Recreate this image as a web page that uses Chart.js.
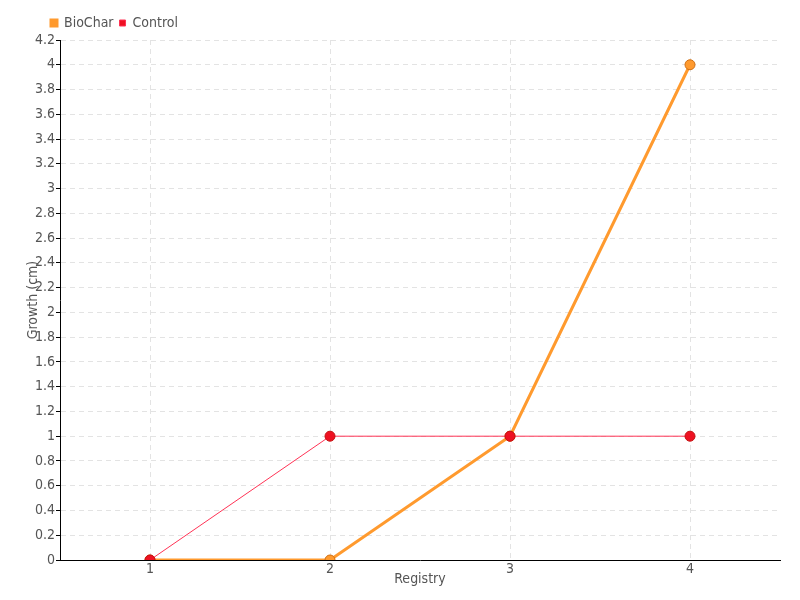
<!DOCTYPE html>
<html><head><meta charset="utf-8">
<script src="https://cdn.jsdelivr.net/npm/chart.js@4"></script>
<style>html,body{margin:0;padding:0;background:#fff}#wrap{width:800px;height:600px}</style>
</head><body><div id="wrap"><canvas id="c" width="800" height="600"></canvas></div>
<script>
const categories = ['1', '2', '3', '4'];
const bioChar = [0, 0, 1, 4];
const control = [0, 1, 1, 1];
const yTicksMax = 4.2;
const yStep = 0.2;

const FONT = "'DejaVu Sans Condensed', 'DejaVu Sans', sans-serif";
Chart.defaults.font.family = FONT;
Chart.defaults.color = '#555';

const legendShift = {
  id: 'legendShift',
  afterLayout(chart) {
    const lg = chart.legend;
    if (lg) { lg.left += 45; lg.right += 45; }
  }
};

new Chart(document.getElementById('c'), {
  type: 'line',
  data: {
    labels: categories,
    datasets: [
      {
        label: 'BioChar', data: bioChar, order: 1,
        borderColor: '#ff9a2e', backgroundColor: '#ff9a2e', borderWidth: 3,
        pointRadius: 5, pointBackgroundColor: '#ff9a2e', pointBorderColor: '#cf6f14', pointBorderWidth: 1,
        tension: 0
      },
      {
        label: 'Control', data: control, order: 0,
        borderColor: '#ff3355', backgroundColor: '#ee1122', borderWidth: 1,
        pointRadius: 5, pointBackgroundColor: '#ee1122', pointBorderColor: '#c41010', pointBorderWidth: 1,
        tension: 0
      }
    ]
  },
  plugins: [legendShift],
  options: {
    responsive: false, animation: false,
    layout: { padding: { left: 0, right: 20, top: 10, bottom: 0 } },
    plugins: {
      tooltip: { enabled: false },
      legend: {
        position: 'top', align: 'start',
        labels: {
          boxWidth: 6, boxHeight: 6, padding: 6, font: { size: 14 }, color: '#555',
          sort: (a, b) => a.datasetIndex - b.datasetIndex
        }
      }
    },
    scales: {
      x: {
        type: 'category', offset: true,
        grid: { offset: false, color: '#e3e3e3', tickLength: 0, drawTicks: false },
        border: { display: true, color: '#000', width: 1, dash: [5, 4] },
        ticks: { padding: 1, font: { size: 14 }, color: '#555' },
        title: { display: true, text: 'Registry', font: { size: 14 }, color: '#555', padding: { top: 0, bottom: 12 } },
        afterFit: s => { s.height = 40; }
      },
      y: {
        min: 0, max: yTicksMax,
        grid: { color: '#e3e3e3', tickColor: '#000', tickLength: 4, tickBorderDash: [] },
        border: { display: true, color: '#000', width: 1, dash: [5, 4] },
        ticks: {
          stepSize: yStep, padding: 1, font: { size: 14 }, color: '#555',
          callback: v => String(parseFloat(Number(v).toFixed(1)))
        },
        title: { display: true, text: 'Growth (cm)', font: { size: 14 }, color: '#555', padding: { top: 25, bottom: 0 } },
        afterFit: s => { s.width = 60; }
      }
    }
  }
});
</script></body></html>
